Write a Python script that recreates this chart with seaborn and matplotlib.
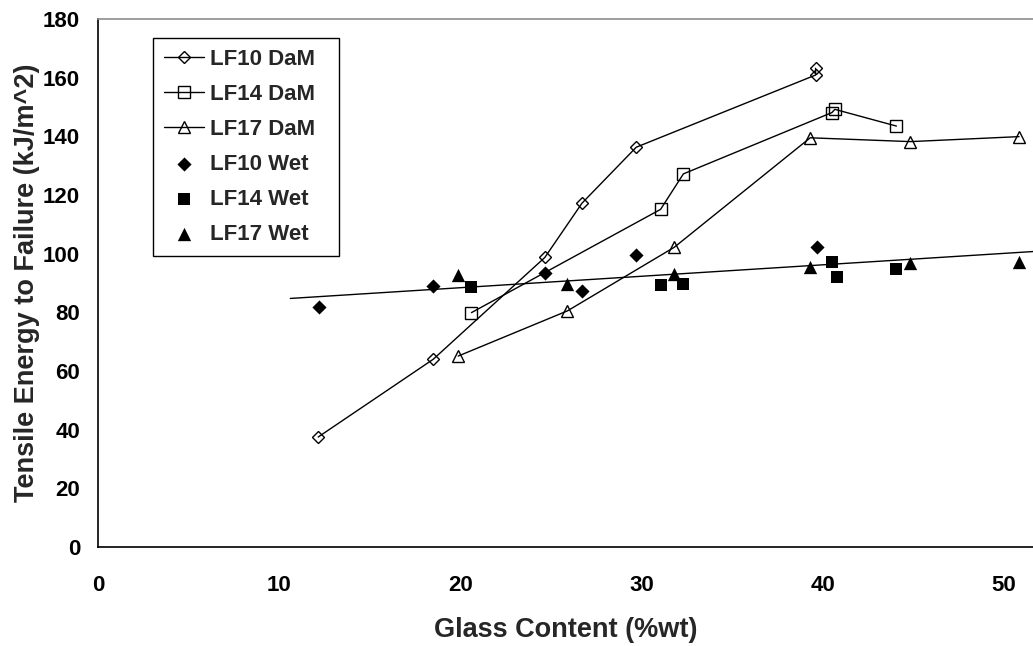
import numpy as np
import pandas as pd
import matplotlib
matplotlib.use("Agg")
import matplotlib.pyplot as plt
import seaborn as sns

# Tensile energy to failure vs glass content, dry-as-moulded (DaM) and wet
lf10_dam_x = [12.14, 18.49, 24.65, 26.7, 29.7, 39.6, 39.6]
lf10_dam_y = [37.5, 64.0, 98.7, 117.2, 136.3, 160.9, 163.2]
lf14_dam_x = [20.6, 31.04, 32.3, 40.5, 40.66, 44.06]
lf14_dam_y = [79.9, 115.1, 127.2, 148.1, 149.2, 143.5]
lf17_dam_x = [19.87, 25.9, 31.8, 39.3, 44.83, 50.83]
lf17_dam_y = [65.1, 80.5, 102.2, 139.5, 138.2, 139.9]

lf10_wet_x = [12.2, 18.49, 24.65, 26.7, 29.7, 39.65]
lf10_wet_y = [81.9, 89.0, 93.5, 87.2, 99.7, 102.2]
lf14_wet_x = [20.6, 31.04, 32.3, 40.5, 40.78, 44.06]
lf14_wet_y = [88.5, 89.2, 89.8, 97.1, 92.0, 94.7]
lf17_wet_x = [19.87, 25.9, 31.8, 39.3, 44.83, 50.83]
lf17_wet_y = [92.7, 89.8, 92.9, 95.6, 96.9, 97.2]

# linear trend through the wet results
trend_slope = 0.39
trend_intercept = 80.6
trend_x_range = [10.6, 52.0]

x_ticks = [0, 10, 20, 30, 40, 50]
y_ticks = [0, 20, 40, 60, 80, 100, 120, 140, 160, 180]

sns.set_theme(style="white")
plt.rcParams["font.family"] = ["Liberation Sans", "DejaVu Sans"]
plt.rcParams["font.weight"] = "bold"

fig = plt.figure(figsize=(10.33, 6.46), dpi=100)
ax = fig.add_axes([98.3 / 1033, 1 - 547 / 646, 1 - 98.3 / 1033, (547 - 19) / 646])

line_kw = dict(color="black", linewidth=1.0, markerfacecolor="none",
               markeredgecolor="black", markeredgewidth=1.0,
               sort=False, estimator=None, ax=ax)

sns.lineplot(x=lf10_dam_x, y=lf10_dam_y, marker="D", markersize=5.8,
             label="LF10 DaM", **line_kw)
sns.lineplot(x=lf14_dam_x, y=lf14_dam_y, marker="s", markersize=8,
             label="LF14 DaM", **line_kw)
sns.lineplot(x=lf17_dam_x, y=lf17_dam_y, marker="^", markersize=9.2,
             label="LF17 DaM", **line_kw)

sns.scatterplot(x=lf10_wet_x, y=lf10_wet_y, marker="D", s=52, color="black",
                edgecolor="black", linewidth=0, label="LF10 Wet", ax=ax)
sns.scatterplot(x=lf14_wet_x, y=lf14_wet_y, marker="s", s=66, color="black",
                edgecolor="black", linewidth=0, label="LF14 Wet", ax=ax)
sns.scatterplot(x=lf17_wet_x, y=lf17_wet_y, marker="^", s=92, color="black",
                edgecolor="black", linewidth=0, label="LF17 Wet", ax=ax)

trend = pd.DataFrame({"x": trend_x_range})
trend["y"] = trend_intercept + trend_slope * trend["x"]
sns.lineplot(data=trend, x="x", y="y", color="black", linewidth=1.0,
             legend=False, ax=ax)

ax.set_xlim(0, 51.6)
ax.set_ylim(0, 180)
ax.set_xticks(x_ticks)
ax.set_yticks(y_ticks)
ax.tick_params(axis="both", direction="in", length=7, width=1.0,
               colors="black", labelsize=16)
ax.tick_params(axis="x", pad=20)
ax.tick_params(axis="y", pad=13)
for lab in ax.get_xticklabels() + ax.get_yticklabels():
    lab.set_fontweight("bold")

ax.spines["left"].set_color("black")
ax.spines["bottom"].set_color("black")
ax.spines["left"].set_linewidth(1.2)
ax.spines["bottom"].set_linewidth(1.2)
ax.spines["top"].set_color("#8c8c8c")
ax.spines["top"].set_linewidth(1.2)
ax.spines["right"].set_visible(False)
for s in ["left", "bottom", "top"]:
    ax.spines[s].set_visible(True)

ax.set_xlabel("Glass Content (%wt)", fontsize=19.5, fontweight="bold", labelpad=15)
ax.set_ylabel("Tensile Energy to Failure (kJ/m^2)", fontsize=19.5,
              fontweight="bold", labelpad=2)

leg_x0, leg_y1, leg_w = 153 / 1033, 1 - 38 / 646, 186 / 1033
leg = ax.legend(loc="upper left", bbox_to_anchor=(leg_x0, leg_y1 - 0.01, leg_w, 0.01),
                bbox_transform=fig.transFigure, mode="expand", frameon=True,
                fancybox=False, edgecolor="black", framealpha=1, fontsize=16,
                handlelength=1.8, handletextpad=0.3, labelspacing=0.634,
                borderpad=0.48, borderaxespad=0)
leg.get_frame().set_linewidth(1.0)
for t in leg.get_texts():
    t.set_fontweight("bold")

fig.savefig("out.png", dpi=100, facecolor="white")
